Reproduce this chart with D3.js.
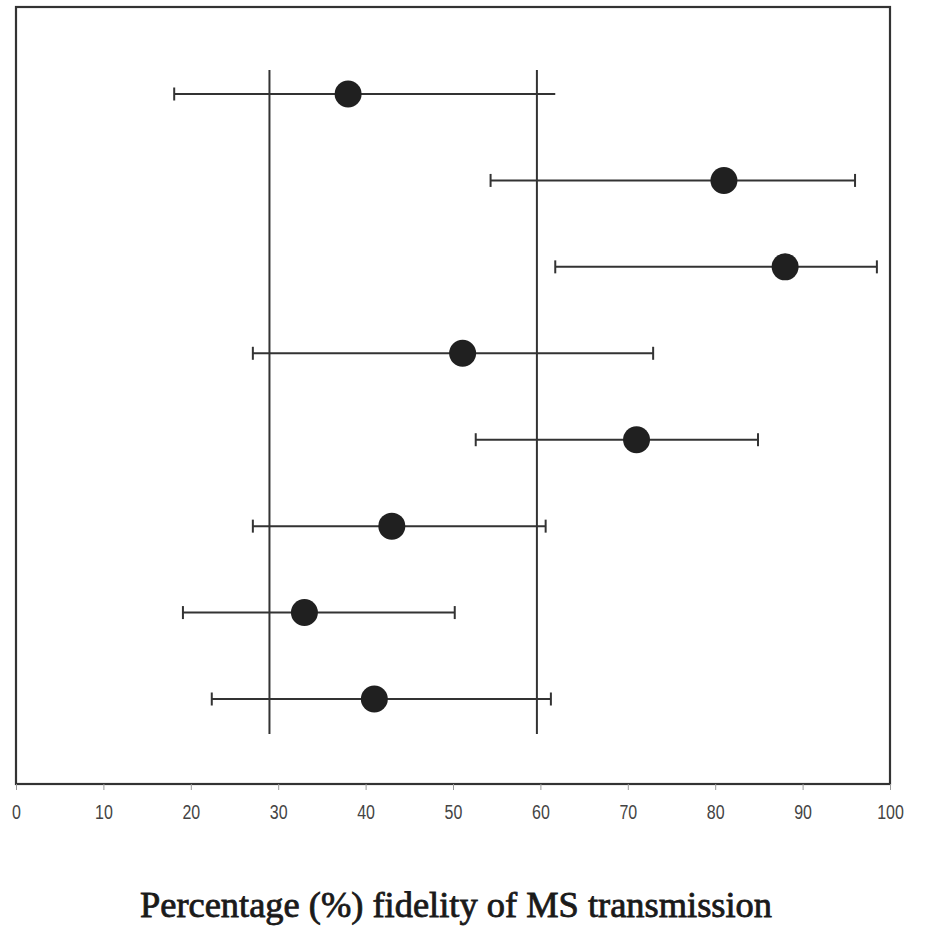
<!DOCTYPE html>
<html>
<head>
<meta charset="utf-8">
<script src="https://cdn.jsdelivr.net/npm/d3@7"></script>
<style>
  body { margin: 0; background: #fff; }
  svg { display: block; }
</style>
</head>
<body>
<script>
const width = 925;
const height = 928;

// rows top to bottom (no labels on the original)
const rows = ["1", "2", "3", "4", "5", "6", "7", "8"];
const means = [38.0, 81.0, 88.0, 51.1, 71.0, 43.0, 33.0, 41.0];
const lower = [18.1, 54.3, 61.7, 27.1, 52.6, 27.1, 19.1, 22.4];
const upper = [61.7, 96.0, 98.5, 72.9, 84.9, 60.6, 50.2, 61.2];
const rightCap = [false, true, true, true, true, true, true, true];
const refLines = [29.0, 59.6];
const xTicks = [0, 10, 20, 30, 40, 50, 60, 70, 80, 90, 100];
const xTitle = "Percentage (%) fidelity of MS transmission";

const plot = { left: 16, right: 890, top: 7, bottom: 784 };

const svg = d3.select("body")
  .append("svg")
  .attr("width", width)
  .attr("height", height);

const x = d3.scaleLinear()
  .domain([0, 100])
  .range([plot.left, plot.right]);

const y = d3.scalePoint()
  .domain(rows)
  .range([94, 699]);

const data = rows.map((r, i) => ({
  row: r, mean: means[i], lo: lower[i], hi: upper[i], capR: rightCap[i]
}));

// frame
svg.append("rect")
  .attr("x", plot.left)
  .attr("y", plot.top)
  .attr("width", plot.right - plot.left)
  .attr("height", plot.bottom - plot.top)
  .attr("fill", "none")
  .attr("stroke", "#333")
  .attr("stroke-width", 2.2);

// axis
const xAxis = d3.axisBottom(x)
  .tickValues(xTicks)
  .tickSize(6)
  .tickPadding(15)
  .tickFormat(d3.format("d"));

const ax = svg.append("g")
  .attr("transform", `translate(0, ${plot.bottom})`)
  .call(xAxis);

ax.select(".domain").remove();
ax.selectAll(".tick line").attr("stroke", "#999").attr("stroke-width", 1);
ax.selectAll(".tick text")
  .attr("fill", "#444")
  .attr("font-family", "Liberation Sans, Arial, sans-serif")
  .attr("font-size", 19.5)
  .attr("transform", "scale(0.82,1)");

// reference lines
svg.selectAll(".ref")
  .data(refLines)
  .enter()
  .append("line")
  .attr("class", "ref")
  .attr("x1", d => x(d))
  .attr("x2", d => x(d))
  .attr("y1", 70)
  .attr("y2", 734)
  .attr("stroke", "#333")
  .attr("stroke-width", 2);

// whiskers
const g = svg.selectAll(".row")
  .data(data)
  .enter()
  .append("g")
  .attr("class", "row");

g.append("line")
  .attr("x1", d => x(d.lo))
  .attr("x2", d => x(d.hi))
  .attr("y1", d => y(d.row))
  .attr("y2", d => y(d.row))
  .attr("stroke", "#333")
  .attr("stroke-width", 2);

g.append("line")
  .attr("x1", d => x(d.lo))
  .attr("x2", d => x(d.lo))
  .attr("y1", d => y(d.row) - 6.5)
  .attr("y2", d => y(d.row) + 6.5)
  .attr("stroke", "#333")
  .attr("stroke-width", 2);

g.filter(d => d.capR)
  .append("line")
  .attr("x1", d => x(d.hi))
  .attr("x2", d => x(d.hi))
  .attr("y1", d => y(d.row) - 6.5)
  .attr("y2", d => y(d.row) + 6.5)
  .attr("stroke", "#333")
  .attr("stroke-width", 2);

g.append("circle")
  .attr("cx", d => x(d.mean))
  .attr("cy", d => y(d.row))
  .attr("r", 13.5)
  .attr("fill", "#202020");

// axis title
svg.append("text")
  .attr("x", 456)
  .attr("y", 917)
  .attr("text-anchor", "middle")
  .attr("font-family", "Liberation Serif, DejaVu Serif, serif")
  .attr("font-size", 35)
  .attr("fill", "#1a1a1a")
  .attr("stroke", "#1a1a1a")
  .attr("stroke-width", 0.8)
  .attr("textLength", 632)
  .attr("lengthAdjust", "spacingAndGlyphs")
  .text(xTitle);
</script>
</body>
</html>
